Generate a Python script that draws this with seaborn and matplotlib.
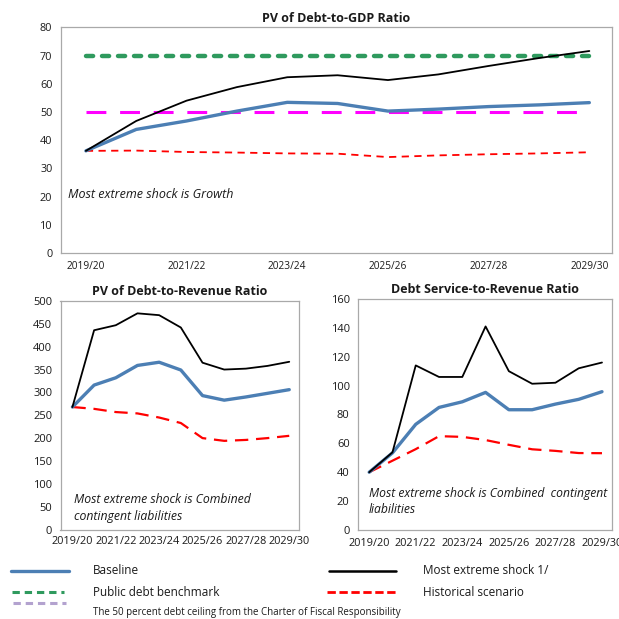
import matplotlib
matplotlib.use("Agg")
import matplotlib.pyplot as plt
from matplotlib.lines import Line2D
from matplotlib.ticker import MultipleLocator, FixedLocator
import seaborn as sns

# Fiscal years on the horizontal axis
years = ["2019/20", "2020/21", "2021/22", "2022/23", "2023/24", "2024/25",
         "2025/26", "2026/27", "2027/28", "2028/29", "2029/30"]

# PV of debt-to-GDP ratio
gdp_baseline = [36.2, 43.8, 46.8, 50.3, 53.4, 53.0, 50.3, 51.0, 51.9, 52.5, 53.3]
gdp_shock = [36.2, 46.8, 54.0, 58.8, 62.3, 63.0, 61.3, 63.3, 66.3, 69.1, 71.6]
gdp_historical = [36.2, 36.3, 35.8, 35.6, 35.3, 35.2, 34.0, 34.6, 35.0, 35.3, 35.7]
gdp_benchmark = [70] * 11
gdp_ceiling = [50] * 11

# PV of debt-to-revenue ratio
rev_baseline = [268, 316, 332, 359, 366, 349, 293, 283, 290, 298, 306]
rev_shock = [268, 436, 447, 473, 469, 442, 365, 350, 352, 358, 367]
rev_historical = [268, 264, 257, 254, 245, 233, 200, 194, 196, 200, 205]

# Debt service-to-revenue ratio
ds_baseline = [40.0, 53.4, 73.2, 84.9, 88.8, 95.3, 83.3, 83.3, 87.2, 90.5, 95.8]
ds_shock = [40.0, 53.8, 114.0, 106.0, 106.0, 141.0, 110.0, 101.3, 102.0, 112.0, 116.0]
ds_historical = [40.0, 48.0, 56.0, 65.0, 64.5, 62.3, 59.0, 55.9, 54.8, 53.3, 53.2]

sns.set_style("white")
plt.rcParams["font.family"] = ["Open Sans", "DejaVu Sans"]
plt.rcParams["text.color"] = "#1a1a1a"

BLUE = "#4C7FB4"
GREEN = "#2F9A5E"
MAGENTA = "#FF00FF"
RED = "#FF0000"
PURPLE = "#B3A2CF"
FRAME = "#A9A9A9"

W = H = 619
fig = plt.figure(figsize=(W / 100, H / 100), dpi=100)


def add_axes(left, top, right, bottom):
    return fig.add_axes([left / W, 1 - bottom / H, (right - left) / W, (bottom - top) / H])


ax_top = add_axes(60.7, 27.3, 612, 253)
ax_rev = add_axes(60.5, 301, 299, 529.5)
ax_ds = add_axes(358, 299, 612, 530)

xs = list(range(len(years)))


def style_axes(ax, ymax, ystep, title, xtick_size, ytick_size, title_size):
    ax.set_xlim(-0.5, 10.45)
    ax.set_ylim(0, ymax)
    ax.yaxis.set_major_locator(MultipleLocator(ystep))
    ax.xaxis.set_major_locator(FixedLocator(xs[::2]))
    ax.set_xticklabels(years[::2])
    ax.xaxis.set_minor_locator(FixedLocator([i + 0.5 for i in range(10)]))
    ax.tick_params(axis="x", which="major", length=0, labelsize=xtick_size, pad=6,
                   colors="#1a1a1a")
    ax.tick_params(axis="x", which="minor", direction="in", length=4, width=0.8,
                   color=FRAME)
    ax.tick_params(axis="y", which="major", direction="out", length=3, width=0.8,
                   color=FRAME, labelsize=ytick_size, labelcolor="#1a1a1a", pad=3)
    for sp in ax.spines.values():
        sp.set_visible(True)
        sp.set_color(FRAME)
        sp.set_linewidth(0.9)
    ax.set_xlabel("")
    ax.set_ylabel("")
    ax.set_title(title, fontsize=title_size, fontweight="bold", pad=4)


# --- PV of Debt-to-GDP Ratio ---
sns.lineplot(x=xs, y=gdp_benchmark, ax=ax_top, color=GREEN, linewidth=3.2,
             linestyle=(0, (1.6, 2.0)), dash_capstyle="round")
sns.lineplot(x=xs, y=gdp_ceiling, ax=ax_top, color=MAGENTA, linewidth=2.2,
             linestyle=(0, (6.5, 4.5)))
sns.lineplot(x=xs, y=gdp_historical, ax=ax_top, color=RED, linewidth=1.3,
             linestyle=(0, (4, 3)))
sns.lineplot(x=xs, y=gdp_baseline, ax=ax_top, color=BLUE, linewidth=2.4)
sns.lineplot(x=xs, y=gdp_shock, ax=ax_top, color="black", linewidth=1.3)
style_axes(ax_top, 80, 10, "PV of Debt-to-GDP Ratio", 7.3, 7.8, 9)
ax_top.text(-0.36, 20.9, "Most extreme shock is Growth", fontsize=9,
            fontstyle="italic", va="center", ha="left")

# --- PV of Debt-to-Revenue Ratio ---
sns.lineplot(x=xs, y=rev_historical, ax=ax_rev, color=RED, linewidth=1.6,
             linestyle=(0, (6, 3.5)))
sns.lineplot(x=xs, y=rev_baseline, ax=ax_rev, color=BLUE, linewidth=2.4)
sns.lineplot(x=xs, y=rev_shock, ax=ax_rev, color="black", linewidth=1.3)
style_axes(ax_rev, 500, 50, "PV of Debt-to-Revenue Ratio", 7.8, 8, 9)
ax_rev.set_xlim(-0.55, 10.45)
ax_rev.tick_params(axis="x", which="major", pad=5)
ax_rev.text(0.07, 66.5, "Most extreme shock is Combined", fontsize=8.8,
            fontstyle="italic", va="center", ha="left")
ax_rev.text(0.07, 29.5, "contingent liabilities", fontsize=8.8,
            fontstyle="italic", va="center", ha="left")

# --- Debt Service-to-Revenue Ratio ---
sns.lineplot(x=xs, y=ds_historical, ax=ax_ds, color=RED, linewidth=1.6,
             linestyle=(0, (6, 3.5)))
sns.lineplot(x=xs, y=ds_baseline, ax=ax_ds, color=BLUE, linewidth=2.4)
sns.lineplot(x=xs, y=ds_shock, ax=ax_ds, color="black", linewidth=1.3)
style_axes(ax_ds, 160, 20, "Debt Service-to-Revenue Ratio", 7.8, 8, 9)
ax_ds.set_xlim(-0.48, 10.43)
ax_ds.text(-0.02, 25.6, "Most extreme shock is Combined  contingent", fontsize=8.7,
           fontstyle="italic", va="center", ha="left")
ax_ds.text(-0.02, 13.9, "liabilities", fontsize=8.7,
           fontstyle="italic", va="center", ha="left")

# --- Shared legend drawn below the panels ---
def legend_line(x0, x1, y, **kw):
    fig.add_artist(Line2D([x0 / W, x1 / W], [1 - y / H, 1 - y / H],
                          transform=fig.transFigure, **kw))


def legend_text(x, y, s, size=8.5):
    fig.text(x / W, 1 - y / H, s, fontsize=size, va="center", ha="left")


legend_line(11, 69, 571, color=BLUE, linewidth=2.4)
legend_text(93, 571, "Baseline")
legend_line(329, 396, 571, color="black", linewidth=1.8)
legend_text(423, 571, "Most extreme shock 1/")

legend_line(12, 64, 592, color=GREEN, linewidth=2.2, linestyle=(0, (2.4, 1.6)))
legend_text(93, 592, "Public debt benchmark")
legend_line(327, 396, 592, color=RED, linewidth=2.0, linestyle=(0, (3, 1.3)))
legend_text(423, 592, "Historical scenario")

legend_line(13, 66, 603, color=PURPLE, linewidth=2.2, linestyle=(0, (2.4, 1.6)))
legend_text(93, 613, "The 50 percent debt ceiling from the Charter of Fiscal Responsibility", 7)

fig.savefig("out.png", dpi=100, facecolor="white")
